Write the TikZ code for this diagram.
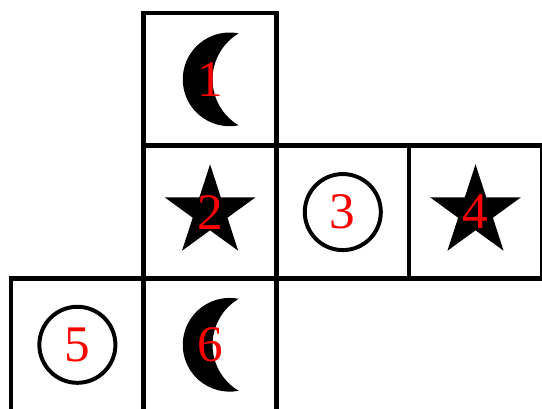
\documentclass[tikz,border=0pt]{standalone}
\usepackage{fontspec}
\setmainfont{Liberation Serif}
\usepackage{tikz}
\usetikzlibrary{positioning,shapes.geometric,calc,backgrounds}
\tikzset{
  tile/cell/.style={draw, line width=2pt, minimum size=2cm, inner sep=0pt, outer sep=0pt,
    text=red, font=\fontsize{22}{26}\selectfont},
  tile/ring/.style={draw, line width=1.7pt},
  tile/star/.style={star, star points=5, star point ratio=2.618, fill=black, draw=none,
    inner sep=0pt, minimum size=1.44cm}
}
% crescent opening to the right, centred on a cell
\newcommand{\crescentat}[1]{%
  \fill ($(#1)+(0.429,0.693)$) arc[start angle=79, end angle=281, radius=0.706]
    arc[start angle=239.1, end angle=120.9, radius=0.807] -- cycle;}

\begin{document}
\begin{tikzpicture}[node distance=0pt]
  \useasboundingbox (-0.166,0.196) rectangle (8.002,-5.953);
  \node[tile/cell] (c1) at (3,-1) {1};
  \node[tile/cell, below=of c1] (c2) {2};
  \node[tile/cell, right=of c2] (c3) {3};
  \node[tile/cell, right=of c3] (c4) {4};
  \node[tile/cell, below=of c2] (c6) {6};
  \node[tile/cell, left=of c6] (c5) {5};

  \begin{scope}[on background layer]
    \crescentat{c1}
    \crescentat{c6}
    \node[tile/star] (s2) at (c2) {};
    \node[tile/star] (s4) at (c4) {};
    \draw[tile/ring] (c3) circle[radius=0.573];
    \draw[tile/ring] (c5) circle[radius=0.573];
  \end{scope}
\end{tikzpicture}
\end{document}
